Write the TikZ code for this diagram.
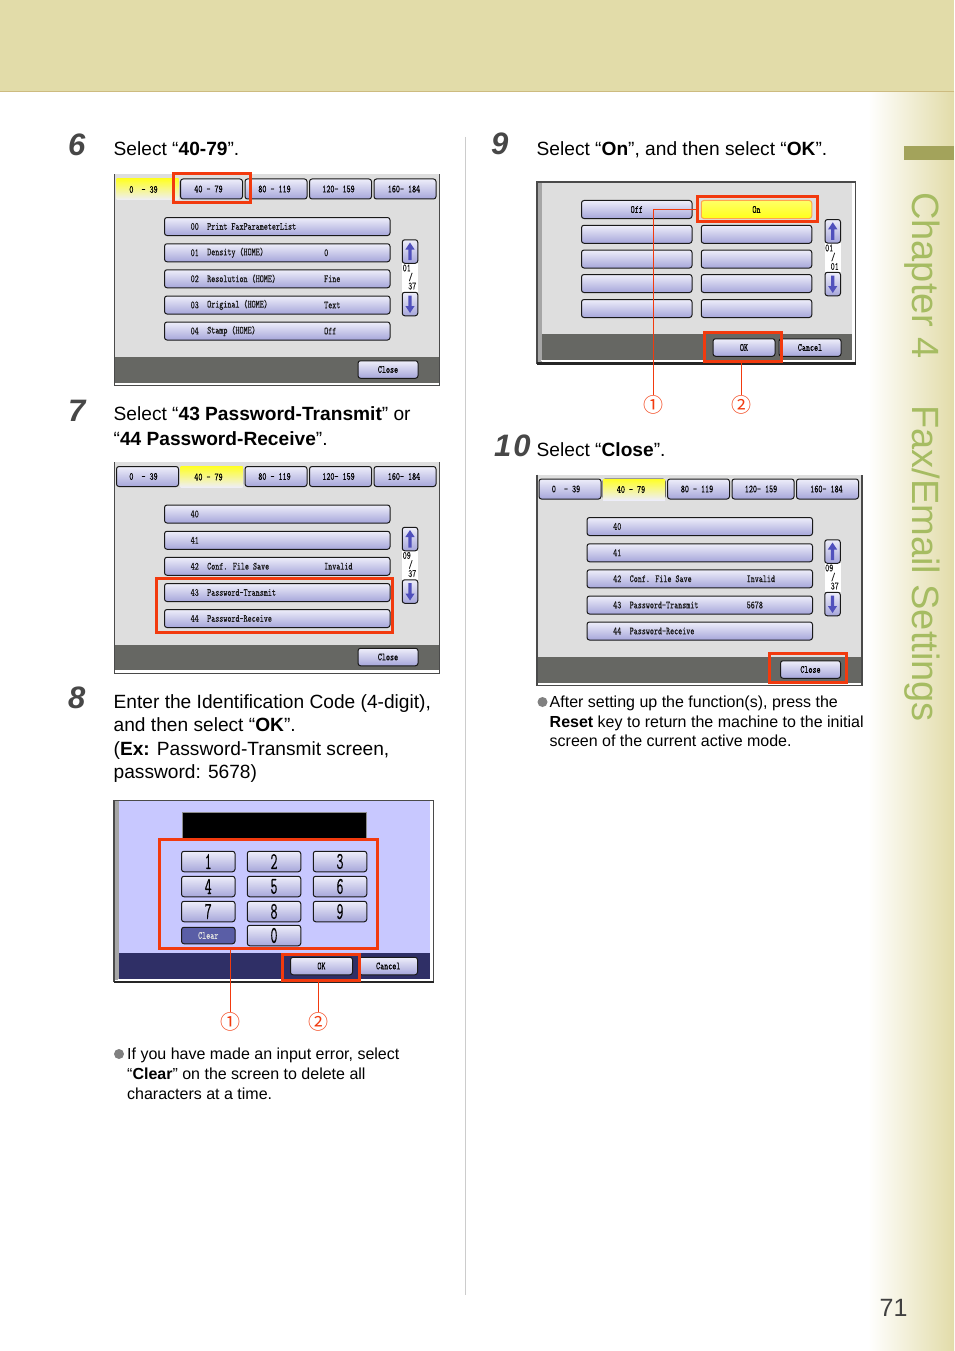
\documentclass[tikz,border=0pt]{standalone}
\usepackage{fontspec}
\setmainfont{Liberation Sans}
\newfontfamily\lcdfont[FakeStretch=0.7,FakeBold=0.25]{Latin Modern Mono}
\newfontfamily\keyfont[FakeStretch=0.56,FakeBold=0.4]{Latin Modern Mono}
\newfontfamily\cjk{Noto Sans CJK JP}
\usetikzlibrary{calc}

\definecolor{bandtan}{HTML}{E2DCA9}
\definecolor{bandline}{HTML}{CDBB80}
\definecolor{markolive}{HTML}{A3A35B}
\definecolor{chapgreen}{HTML}{A6BC62}
\definecolor{redmark}{HTML}{F23A0E}
\definecolor{paneltone}{HTML}{DEDEDE}
\definecolor{bartone}{HTML}{666763}
\definecolor{edgetone}{HTML}{4A4A4A}
\definecolor{btntop}{HTML}{EEEEFA}
\definecolor{btnbot}{HTML}{A6A6DA}
\definecolor{arrowblue}{HTML}{5050BC}
\definecolor{lilac}{HTML}{C8C8FF}
\definecolor{navybar}{HTML}{2F2F66}
\definecolor{clearblue}{HTML}{5A5EA6}

\tikzset{
	bodytext/.style={anchor=north west, inner sep=0pt, align=left, font=\fontsize{19.15}{23.4}\selectfont},
	notetext/.style={anchor=north west, inner sep=0pt, align=left, font=\fontsize{16}{19.8}\selectfont},
	stepnum/.style={anchor=base west, inner sep=0pt, text=black!72, font=\fontsize{31}{31}\selectfont\bfseries\itshape},
	btn/.style={draw=black!90, line width=1pt, rounded corners=2.5pt, top color=btntop, bottom color=btnbot, inner sep=0pt, font=\lcdfont\fontsize{11}{11}\selectfont},
	tabbtn/.style={btn, minimum width=62pt, minimum height=20pt},
	rowbtn/.style={btn, minimum width=225.5pt, minimum height=18pt},
	closebtn/.style={btn, minimum width=60pt, minimum height=17.5pt},
	arrowbtn/.style={btn, minimum width=15.5pt, minimum height=23.5pt},
	optbtn/.style={btn, minimum width=110.5pt, minimum height=18pt},
	keybtn/.style={btn, minimum width=53.5pt, minimum height=20.5pt, font=\keyfont\fontsize{24}{24}\selectfont},
	lcd/.style={anchor=west, inner sep=0pt, text=black!90, font=\lcdfont\fontsize{11}{11}\selectfont},
	redbox/.style={draw=redmark, line width=3pt, inner sep=0pt},
	leader/.style={draw=redmark, line width=0.6pt},
	circnum/.style={inner sep=0pt, text=redmark, font=\cjk\fontsize{20}{20}\selectfont},
}

% one arrow glyph, centred on the given point
\def\arrowup(#1,#2){\fill[arrowblue, shift={(#1,#2)}] (-1.6,8.5) -- (-1.6,-2) -- (-4.6,-2) -- (0,-9) -- (4.6,-2) -- (1.6,-2) -- (1.6,8.5) -- cycle;}
\def\arrowdown(#1,#2){\fill[arrowblue, shift={(#1,#2)}] (-1.6,-8.5) -- (-1.6,2) -- (-4.6,2) -- (0,9) -- (4.6,2) -- (1.6,2) -- (1.6,-8.5) -- cycle;}

% row of the list screens: name, y, number, text, value
\def\listrow#1#2#3#4#5{
	\node[rowbtn] (#1) at (277.25,#2) {};
	\node[lcd] (#1num) at (190.5,#2) {#3};
	\node[lcd] (#1txt) at (207,#2) {#4};
	\node[lcd] (#1val) at (324,#2) {#5};
}

% list screen frame, tabs, scroll buttons and close: top and bottom of the counter
\def\listscreen#1#2{
	\fill[paneltone] (114.5,174.5) rectangle (439.5,357);
	\fill[bartone] (114.5,357) rectangle (439.5,382.5);
	\draw[edgetone, line width=1.2pt] (114.5,174.5) -- (114.5,385.8) -- (439.5,385.8) -- (439.5,174.5);
	\draw[white, line width=0.8pt] (115.8,383.6) -- (438.2,383.6);
	\node[tabbtn] (tabA) at (147.5,189) {\hspace*{-8pt}0~~-~39};
	\node[tabbtn] (tabB) at (211.5,189) {\hspace*{-6pt}40~-~79};
	\node[tabbtn] (tabC) at (276,189) {\hspace*{-3pt}80~-~119};
	\node[tabbtn] (tabD) at (340.5,189) {\hspace*{-4pt}120-~159};
	\node[tabbtn] (tabE) at (405,189) {\hspace*{-2pt}160-~184};
	\fill[white] (402,263) rectangle (418,292);
	\node[arrowbtn] (upbtn) at (410,251.5) {};
	\arrowup(410,251.5);
	\node[arrowbtn] (downbtn) at (410,304) {};
	\arrowdown(410,304);
	\node[lcd] (cnttop) at (402.5,268) {#1};
	\node[lcd] (cntbar) at (408.5,277) {/};
	\node[lcd] (cntbot) at (408,286) {#2};
	\node[closebtn] (close) at (388,369.5) {Close};
}

\begin{document}
\begin{tikzpicture}[x=1pt, y=-1pt]
	%%%%% START %%%%%
	\useasboundingbox (0,0) rectangle (954,1351);
	\fill[white] (0,0) rectangle (954,1351);

	% page furniture
	\shade[left color=white, right color=bandtan] (868,92) rectangle (954,1351);
	\fill[bandtan] (0,0) rectangle (954,91);
	\fill[bandline] (0,91) rectangle (954,92.5);
	\fill[markolive] (904,146) rectangle (954,160);
	\node[anchor=west, inner sep=0pt, rotate=-90, text=chapgreen, font=\fontsize{38}{38}\selectfont] (chapter) at (922,192) {Chapter 4};
	\node[anchor=west, inner sep=0pt, rotate=-90, text=chapgreen, font=\fontsize{38}{38}\selectfont] (section) at (922,405) {Fax/Email Settings};
	\node[inner sep=0pt, text=black!75, font=\fontsize{25}{25}\selectfont] (pagenum) at (893.5,1308) {71};
	\draw[black!20, line width=0.7pt] (465.5,137) -- (465.5,1295);

	% step 6
	\node[stepnum] (stepsix) at (68,156) {6};
	\node[bodytext] (textsix) at (113.5,141.5) {Select “\textbf{40-79}”.};
	\begin{scope}[name prefix=six-]
		\listscreen{01}{37}
		\node[inner sep=0pt, minimum width=62pt, minimum height=21pt, top color=yellow!85!white, bottom color=btntop, font=\lcdfont\fontsize{11}{11}\selectfont] (tabon) at (147.5,189.5) {\hspace*{-8pt}0~~-~39};
		\listrow{rowA}{226.5}{00}{Print FaxParameterList}{}
		\listrow{rowB}{252.75}{01}{Density (HOME)}{0}
		\listrow{rowC}{278.75}{02}{Resolution (HOME)}{Fine}
		\listrow{rowD}{305}{03}{Original (HOME)}{Text}
		\listrow{rowE}{331}{04}{Stamp (HOME)}{Off}
	\end{scope}
	\node[redbox, minimum width=77pt, minimum height=29pt] (redsix) at (212,188) {};

	% step 7
	\node[stepnum] (stepseven) at (68,421) {7};
	\node[bodytext] (textseven) at (113.5,406.5) {Select “\textbf{43 Password-Transmit}” or\\[1.2pt]“\textbf{44 Password-Receive}”.};
	\begin{scope}[shift={(0,287.5)}, name prefix=seven-]
		\listscreen{09}{37}
		\node[inner sep=0pt, minimum width=62pt, minimum height=21pt, top color=yellow!85!white, bottom color=btntop, font=\lcdfont\fontsize{11}{11}\selectfont] (tabon) at (211.5,189.5) {\hspace*{-6pt}40~-~79};
		\listrow{rowA}{226.5}{40}{}{}
		\listrow{rowB}{252.75}{41}{}{}
		\listrow{rowC}{278.75}{42}{Conf. File Save}{Invalid}
		\listrow{rowD}{305}{43}{Password-Transmit}{}
		\listrow{rowE}{331}{44}{Password-Receive}{}
	\end{scope}
	\node[redbox, minimum width=236pt, minimum height=53.5pt] (redseven) at (274,605.5) {};

	% step 8
	\node[stepnum] (stepeight) at (68,708) {8};
	\node[bodytext] (texteight) at (113.5,694.5) {Enter the Identification Code (4-digit),\\and then select “\textbf{OK}”.\\(\textbf{Ex:} Password-Transmit screen,\\password: 5678)};
	\fill[lilac] (115,801) rectangle (429.5,953);
	\fill[navybar] (115,953) rectangle (429.5,979);
	\fill[black!35] (114,800.5) rectangle (118.5,980);
	\draw[edgetone, line width=1.2pt] (114,800.5) -- (433.5,800.5) -- (433.5,981.5) -- (114,981.5) -- cycle;
	\draw[black!85, line width=2.2pt] (114,981.8) -- (433.5,981.8);
	\draw[white, line width=1pt] (118,979.6) -- (431,979.6) -- (431,801);
	\fill[black] (182,812) rectangle (366,838);
	\draw[black!45, line width=0.8pt] (182,838) -- (182,812) -- (366,812) -- (366,838);
	\node[keybtn] (keyone) at (208.25,861.5) {1};
	\node[keybtn] (keytwo) at (274,861.5) {2};
	\node[keybtn] (keythree) at (340,861.5) {3};
	\node[keybtn] (keyfour) at (208.25,886.5) {4};
	\node[keybtn] (keyfive) at (274,886.5) {5};
	\node[keybtn] (keysix) at (340,886.5) {6};
	\node[keybtn] (keyseven) at (208.25,911.5) {7};
	\node[keybtn] (keyeight) at (274,911.5) {8};
	\node[keybtn] (keynine) at (340,911.5) {9};
	\node[keybtn] (keyzero) at (274,935.5) {0};
	\node[btn, minimum width=53.5pt, minimum height=16.5pt, top color=clearblue, bottom color=clearblue, text=black!12] (keyclear) at (208.25,935.5) {Clear};
	\node[closebtn, minimum width=62pt] (okeight) at (321.5,966) {OK};
	\node[closebtn, minimum width=58.5pt] (canceleight) at (388.25,966) {Cancel};
	\node[redbox, minimum width=218pt, minimum height=109pt] (redkeys) at (268,893.5) {};
	\node[redbox, minimum width=77pt, minimum height=26pt] (redokeight) at (320.5,967) {};
	\node[circnum] (oneeight) at (230.5,1022) {①};
	\node[circnum] (twoeight) at (318.5,1022) {②};
	\draw[leader] (redkeys.south -| oneeight) -- (oneeight.north);
	\draw[leader] (redokeight.south -| twoeight) -- (twoeight.north);
	\fill[black!50] (119,1054) circle (5);
	\node[notetext] (noteeight) at (127,1048) {If you have made an input error, select\\“\textbf{Clear}” on the screen to delete all\\characters at a time.};

	% step 9
	\node[stepnum] (stepnine) at (491,155) {9};
	\node[bodytext] (textnine) at (536.5,141.5) {Select “\textbf{On}”, and then select “\textbf{OK}”.};
	\fill[paneltone] (542,183) rectangle (851.5,334);
	\fill[bartone] (542,334) rectangle (851.5,360);
	\fill[black!35] (537,182) rectangle (542,362);
	\draw[edgetone, line width=1.2pt] (537,182) -- (855.5,182) -- (855.5,363) -- (537,363) -- cycle;
	\draw[black!85, line width=2.2pt] (537,363.5) -- (855.5,363.5);
	\draw[white, line width=1pt] (541,360.8) -- (853,360.8) -- (853,183);
	\node[optbtn] (optoff) at (636.75,209.5) {Off};
	\node[optbtn, draw=orange!70!white, top color=yellow!60!white, bottom color=yellow!90!white] (opton) at (756.5,209.5) {On};
	\node[optbtn] (optbA) at (636.75,234.25) {};
	\node[optbtn] (optbB) at (756.5,234.25) {};
	\node[optbtn] (optcA) at (636.75,259) {};
	\node[optbtn] (optcB) at (756.5,259) {};
	\node[optbtn] (optdA) at (636.75,283.5) {};
	\node[optbtn] (optdB) at (756.5,283.5) {};
	\node[optbtn] (opteA) at (636.75,308.5) {};
	\node[optbtn] (opteB) at (756.5,308.5) {};
	\fill[white] (824.5,243) rectangle (841,272);
	\node[arrowbtn] (upnine) at (832.75,231.25) {};
	\arrowup(832.75,231.25);
	\node[arrowbtn] (downnine) at (832.75,284) {};
	\arrowdown(832.75,284);
	\node[lcd] (cnttopnine) at (825,248) {01};
	\node[lcd] (cntbarnine) at (831,257) {/};
	\node[lcd] (cntbotnine) at (830.5,266.5) {01};
	\node[closebtn, minimum width=62pt] (oknine) at (744,347.5) {OK};
	\node[closebtn, minimum width=62pt] (cancelnine) at (810,347.5) {Cancel};
	\node[redbox, minimum width=120pt, minimum height=25pt] (redon) at (757,209) {};
	\node[redbox, minimum width=77pt, minimum height=29pt] (redoknine) at (742.5,346.5) {};
	\node[circnum] (onenine) at (653,405) {①};
	\node[circnum] (twonine) at (741,405) {②};
	\draw[leader] (redon.west) -| (onenine.north);
	\draw[leader] (redoknine.south -| twonine) -- (twonine.north);

	% step 10
	\node[stepnum] (stepten) at (494,456) {1\kern2pt0};
	\node[bodytext] (textten) at (536.5,442) {Select “\textbf{Close}”.};
	\begin{scope}[shift={(422.5,300)}, name prefix=ten-]
		\listscreen{09}{37}
		\node[inner sep=0pt, minimum width=62pt, minimum height=21pt, top color=yellow!85!white, bottom color=btntop, font=\lcdfont\fontsize{11}{11}\selectfont] (tabon) at (211.5,189.5) {\hspace*{-6pt}40~-~79};
		\listrow{rowA}{226.5}{40}{}{}
		\listrow{rowB}{252.75}{41}{}{}
		\listrow{rowC}{278.75}{42}{Conf. File Save}{Invalid}
		\listrow{rowD}{305}{43}{Password-Transmit}{5678}
		\listrow{rowE}{331}{44}{Password-Receive}{}
	\end{scope}
	\node[redbox, minimum width=77pt, minimum height=29pt] (redclose) at (808,668) {};
	\fill[black!50] (542.5,702) circle (5);
	\node[notetext] (noteten) at (549.5,695.5) {After setting up the function(s), press the\\\textbf{Reset} key to return the machine to the initial\\screen of the current active mode.};

	%%%%% END %%%%%
\end{tikzpicture}
\end{document}
